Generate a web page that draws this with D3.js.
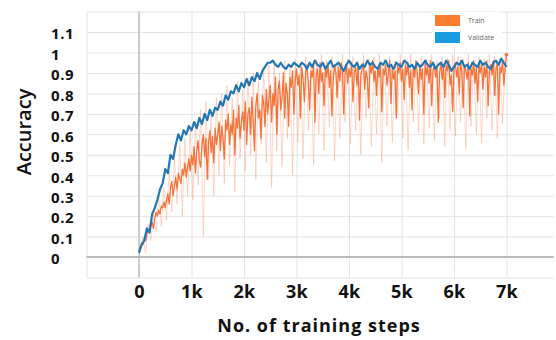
<!DOCTYPE html>
<html>
<head>
<meta charset="utf-8">
<script src="https://cdn.jsdelivr.net/npm/d3@7"></script>
<style>
  html, body { margin: 0; padding: 0; background: #fff; }
  svg { display: block; font-family: "Open Sans", sans-serif; }
</style>
</head>
<body>
<svg id="chart" width="556" height="340"></svg>
<script>
// validate + raw train logged every 50 steps, train curve every 25
const validateInterval = 50;
const trainInterval = 25;
const rawInterval = 50;
const rawOffset = 25;

const validate = [
  0.02,0.06,0.08,0.14,0.12,0.21,0.24,0.28,0.33,0.36,
  0.43,0.41,0.50,0.48,0.55,0.60,0.57,0.62,0.60,0.64,
  0.62,0.66,0.63,0.68,0.65,0.70,0.67,0.72,0.69,0.73,
  0.72,0.76,0.74,0.79,0.77,0.81,0.80,0.84,0.81,0.85,
  0.83,0.87,0.84,0.88,0.86,0.90,0.87,0.91,0.93,0.95,
  0.95,0.96,0.94,0.93,0.95,0.93,0.92,0.94,0.93,0.95,
  0.94,0.93,0.95,0.94,0.92,0.95,0.93,0.96,0.94,0.93,
  0.95,0.92,0.94,0.96,0.93,0.94,0.95,0.93,0.91,0.94,
  0.96,0.94,0.93,0.95,0.92,0.94,0.93,0.96,0.94,0.95,
  0.93,0.92,0.95,0.94,0.96,0.93,0.94,0.92,0.95,0.94,
  0.93,0.96,0.95,0.93,0.94,0.92,0.95,0.93,0.94,0.96,
  0.94,0.93,0.95,0.92,0.94,0.95,0.93,0.96,0.94,0.91,
  0.93,0.95,0.94,0.96,0.93,0.94,0.92,0.95,0.94,0.93,
  0.96,0.94,0.95,0.93,0.92,0.95,0.96,0.94,0.97,0.95,
  0.93
];

const train = [
  0.03,0.05,0.07,0.06,0.09,0.08,0.11,0.13,0.12,0.15,0.17,0.14,0.19,0.22,0.20,0.23,0.21,0.25,0.24,0.27,
  0.24,0.28,0.31,0.26,0.34,0.37,0.30,0.35,0.39,0.33,0.41,0.38,0.36,0.43,0.40,0.46,0.39,0.44,0.48,0.42,
  0.50,0.45,0.54,0.41,0.52,0.57,0.47,0.44,0.55,0.60,0.49,0.58,0.38,0.56,0.62,0.51,0.59,0.46,0.63,0.55,
  0.60,0.66,0.52,0.64,0.58,0.48,0.67,0.62,0.70,0.55,0.65,0.60,0.72,0.50,0.68,0.63,0.74,0.58,0.66,0.71,
  0.62,0.76,0.55,0.70,0.73,0.60,0.78,0.66,0.52,0.74,0.80,0.68,0.72,0.58,0.79,0.75,0.64,0.82,0.70,0.77,
  0.84,0.66,0.80,0.74,0.88,0.60,0.82,0.86,0.72,0.78,0.90,0.68,0.85,0.80,0.64,0.88,0.83,0.91,0.70,0.86,
  0.92,0.84,0.89,0.68,0.93,0.87,0.76,0.90,0.94,0.85,0.72,0.91,0.88,0.94,0.66,0.89,0.92,0.80,0.95,0.86,
  0.90,0.74,0.93,0.88,0.95,0.83,0.91,0.69,0.87,0.94,0.90,0.78,0.93,0.86,0.95,0.91,0.70,0.89,0.94,0.85,
  0.92,0.88,0.95,0.76,0.90,0.93,0.84,0.94,0.67,0.89,0.92,0.95,0.82,0.91,0.87,0.73,0.94,0.90,0.96,0.86,
  0.91,0.79,0.93,0.88,0.95,0.71,0.92,0.89,0.94,0.84,0.90,0.96,0.75,0.93,0.87,0.91,0.68,0.94,0.90,0.95,
  0.86,0.92,0.77,0.94,0.89,0.95,0.83,0.91,0.72,0.93,0.88,0.96,0.90,0.80,0.94,0.87,0.92,0.70,0.95,0.89,
  0.93,0.85,0.96,0.74,0.91,0.94,0.88,0.92,0.66,0.90,0.95,0.87,0.93,0.78,0.94,0.91,0.96,0.84,0.89,0.71,
  0.92,0.95,0.88,0.93,0.80,0.96,0.90,0.73,0.94,0.91,0.87,0.95,0.69,0.92,0.89,0.96,0.85,0.93,0.76,0.94,
  0.90,0.95,0.82,0.93,0.88,0.96,0.74,0.91,0.94,0.89,0.96,0.79,0.92,0.95,0.70,0.93,0.90,0.96,0.84,0.92,
  0.99
];

const trainRaw = [
  0.03,0.10,0.02,0.16,0.08,0.22,0.12,0.30,0.15,0.34,
  0.18,0.42,0.22,0.48,0.26,0.55,0.20,0.58,0.30,0.62,
  0.28,0.66,0.35,0.72,0.10,0.76,0.38,0.70,0.30,0.78,
  0.40,0.80,0.36,0.84,0.45,0.78,0.32,0.86,0.48,0.82,
  0.42,0.88,0.50,0.90,0.38,0.86,0.55,0.92,0.46,0.94,
  0.34,0.95,0.52,0.90,0.44,0.96,0.58,0.93,0.40,0.97,
  0.56,0.95,0.48,0.98,0.62,0.94,0.45,0.97,0.60,0.99,
  0.52,0.96,0.64,0.98,0.47,0.95,0.58,0.99,0.66,0.97,
  0.55,0.98,0.62,0.96,0.50,0.99,0.68,0.97,0.54,0.98,
  0.60,0.99,0.46,0.97,0.64,0.98,0.56,0.96,0.70,0.99,
  0.58,0.97,0.52,0.99,0.66,0.96,0.61,0.98,0.55,0.97,
  0.63,0.99,0.57,0.96,0.68,0.98,0.54,0.97,0.62,0.99,
  0.59,0.98,0.66,0.97,0.53,0.99,0.64,0.96,0.60,0.98,
  0.56,0.97,0.68,0.99,0.62,0.98,0.58,0.97,0.65,0.99
];

const yTicks = [0, 0.1, 0.2, 0.3, 0.4, 0.5, 0.6, 0.7, 0.8, 0.9, 1, 1.1];
const yGrid = [-0.1, 0, 0.1, 0.2, 0.3, 0.4, 0.5, 0.6, 0.7, 0.8, 0.9, 1, 1.1, 1.2];
const xTicks = [0, 1000, 2000, 3000, 4000, 5000, 6000, 7000];
const xTickLabels = ["0", "1k", "2k", "3k", "4k", "5k", "6k", "7k"];
const xGrid = [-1000, 0, 1000, 2000, 3000, 4000, 5000, 6000, 7000];
const legendItems = [
  {name: "Train", color: "#fb7d2e"},
  {name: "Validate", color: "#1b9be0"}
];

const plot = {left: 86.5, right: 553.75, top: 11.6, bottom: 277.5};
const svg = d3.select("#chart");

const x = d3.scaleLinear().domain([-1000, 7900]).range([plot.left, plot.right]);
const y = d3.scaleLinear().domain([-0.1, 1.2]).range([plot.bottom, plot.top]);

// grid
svg.append("g")
  .attr("transform", `translate(${plot.left},0)`)
  .call(d3.axisLeft(y).tickValues(yGrid).tickSize(-(plot.right - plot.left)).tickFormat(""))
  .call(g => g.select(".domain").remove())
  .call(g => g.selectAll("line").attr("stroke", "#e4e4e4"));

svg.append("g")
  .attr("transform", `translate(0,${plot.bottom})`)
  .call(d3.axisBottom(x).tickValues(xGrid).tickSize(-(plot.bottom - plot.top)).tickFormat(""))
  .call(g => g.select(".domain").remove())
  .call(g => g.selectAll("line").attr("stroke", "#e4e4e4"));

// zero lines
svg.append("line")
  .attr("x1", plot.left).attr("x2", plot.right)
  .attr("y1", y(0)).attr("y2", y(0))
  .attr("stroke", "#a8a8a8").attr("stroke-width", 1.6);
svg.append("line")
  .attr("x1", x(0)).attr("x2", x(0))
  .attr("y1", plot.top).attr("y2", plot.bottom)
  .attr("stroke", "#b4b4b4").attr("stroke-width", 1.2);

// tick labels
svg.append("g")
  .attr("transform", `translate(${plot.left},2)`)
  .call(d3.axisLeft(y).tickValues(yTicks).tickSize(0).tickFormat(d => String(d)))
  .call(g => g.select(".domain").remove())
  .call(g => g.selectAll("text")
    .attr("x", 51 - plot.left)
    .attr("text-anchor", "start")
    .style("font-family", '"Open Sans", sans-serif')
    .style("font-size", "15px")
    .style("font-weight", "bold")
    .style("letter-spacing", "0.6px")
    .attr("fill", "#111"));

svg.append("g")
  .attr("transform", `translate(0,${plot.bottom})`)
  .call(d3.axisBottom(x).tickValues(xTicks).tickSize(0).tickFormat((d, i) => xTickLabels[i]))
  .call(g => g.select(".domain").remove())
  .call(g => g.selectAll("text")
    .attr("y", 8)
    .style("font-family", '"Open Sans", sans-serif')
    .style("font-size", "18px")
    .style("font-weight", "bold")
    .style("letter-spacing", "0.4px")
    .attr("fill", "#111"));

// axis titles
svg.append("text")
  .attr("x", 319).attr("y", 332)
  .attr("text-anchor", "middle")
  .style("font-size", "18px").style("font-weight", "bold")
  .style("letter-spacing", "1px")
  .attr("fill", "#111")
  .text("No. of training steps");

svg.append("text")
  .attr("transform", "translate(31,132) rotate(-90)")
  .attr("text-anchor", "middle")
  .style("font-size", "20px").style("font-weight", "600")
  .attr("fill", "#111")
  .text("Accuracy");

// lines
const line = (offset, step) => d3.line()
  .x((d, i) => x(offset + i * step))
  .y(d => y(d));

svg.append("path")
  .datum(trainRaw)
  .attr("d", line(rawOffset, rawInterval))
  .attr("fill", "none")
  .attr("stroke", "#f7936a")
  .attr("stroke-opacity", 0.35)
  .attr("stroke-width", 1);

svg.append("path")
  .datum(train)
  .attr("d", line(0, trainInterval))
  .attr("fill", "none")
  .attr("stroke", "#f4743c")
  .attr("stroke-width", 1.3)
  .attr("stroke-linejoin", "round");

svg.append("circle")
  .attr("cx", x((train.length - 1) * trainInterval))
  .attr("cy", y(train[train.length - 1]))
  .attr("r", 1.8)
  .attr("fill", "#f4743c");

svg.append("path")
  .datum(validate)
  .attr("d", line(0, validateInterval))
  .attr("fill", "none")
  .attr("stroke", "#2277b6")
  .attr("stroke-width", 2.2)
  .attr("stroke-linejoin", "round");

// legend
const legend = svg.append("g").attr("transform", "translate(432,12)");
legend.append("rect")
  .attr("width", 70).attr("height", 34)
  .attr("fill", "#fff");
legend.selectAll(".item")
  .data(legendItems)
  .enter().append("g")
  .attr("transform", (d, i) => `translate(3,${3 + i * 17})`)
  .each(function(d) {
    const g = d3.select(this);
    g.append("rect").attr("width", 25).attr("height", 11).attr("fill", d.color);
    g.append("text")
      .attr("x", 33).attr("y", 6)
      .attr("dominant-baseline", "middle")
      .style("font-size", "7px")
      .attr("fill", "#666")
      .text(d.name);
  });
</script>
</body>
</html>
